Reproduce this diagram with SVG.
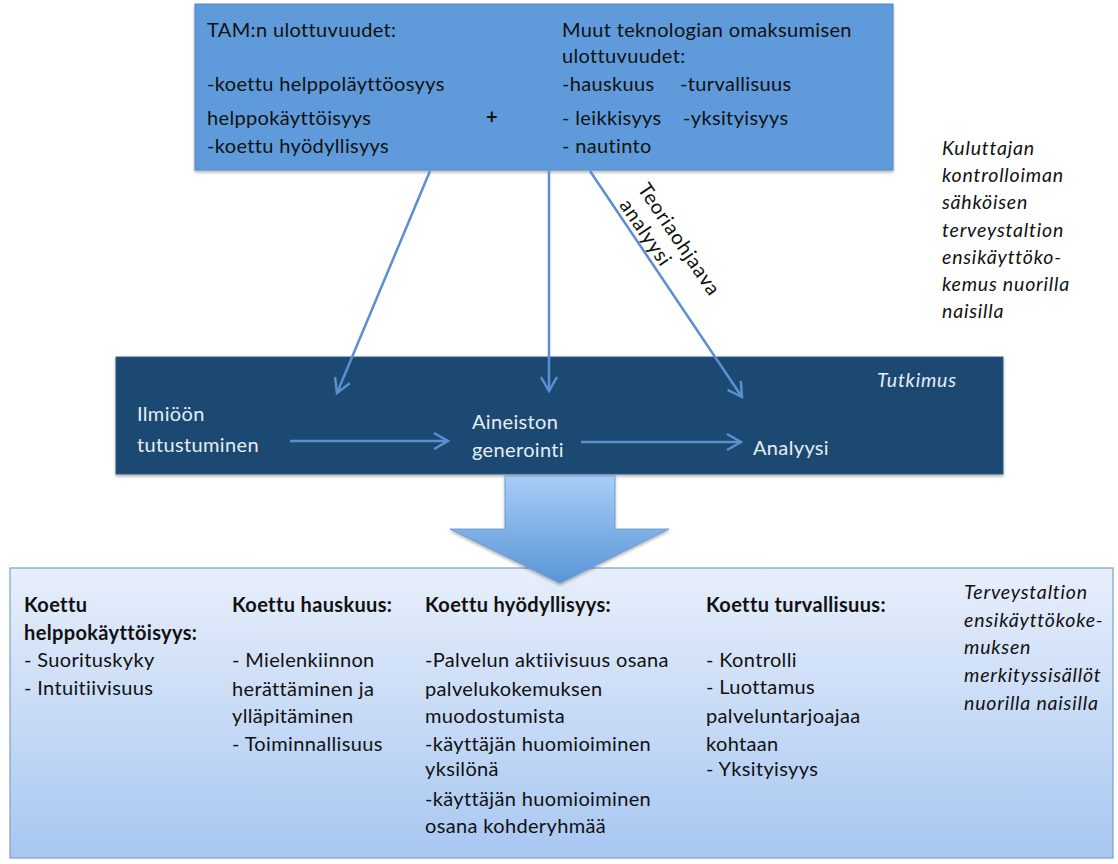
<svg xmlns="http://www.w3.org/2000/svg" width="1118" height="864" viewBox="0 0 1118 864">
  <defs>
    <style>
      .t { font-family: Lato, "Open Sans", "Liberation Sans", sans-serif; font-size: 20px; letter-spacing: 0.35px; fill: #111; }
      .w { font-family: Lato, "Open Sans", "Liberation Sans", sans-serif; font-size: 20px; letter-spacing: 0.35px; fill: #e6edf5; }
      .b { font-weight: bold; }
      .i { font-style: italic; font-size: 19.5px; letter-spacing: 0.8px; }
      .conn { stroke: #5b8fcf; stroke-width: 2.5; fill: none; }
    </style>
    <marker id="chev" viewBox="0 0 20 20" refX="18" refY="10" markerWidth="20" markerHeight="20" markerUnits="userSpaceOnUse" orient="auto">
      <path d="M4,2 L18,10 L4,18" fill="none" stroke="#5b8fcf" stroke-width="2.5"/>
    </marker>
    <linearGradient id="bigArrow" x1="0" y1="0" x2="0" y2="1">
      <stop offset="0" stop-color="#a9ccf5"/>
      <stop offset="1" stop-color="#5896d8"/>
    </linearGradient>
    <linearGradient id="resultFill" x1="0" y1="0" x2="0" y2="1">
      <stop offset="0" stop-color="#e8effb"/>
      <stop offset="1" stop-color="#a7c7f1"/>
    </linearGradient>
    <filter id="shadow" x="-5%" y="-5%" width="110%" height="115%">
      <feDropShadow dx="0" dy="2" stdDeviation="1.5" flood-color="#000" flood-opacity="0.3"/>
    </filter>
  </defs>

  <rect width="1118" height="864" fill="#fff"/>

  <!-- Dimensions box -->
  <g id="dimensions">
    <rect x="195" y="4" width="698" height="166" fill="#5f9bdb" stroke="#4f86c6" stroke-width="1" filter="url(#shadow)"/>
    <text class="t" x="207" y="37">TAM:n ulottuvuudet:</text>
    <text class="t" x="207" y="91">-koettu helppoläyttöosyys</text>
    <text class="t" x="207" y="125">helppokäyttöisyys</text>
    <text class="t" x="207" y="153">-koettu hyödyllisyys</text>
    <text class="t b" x="486" y="124">+</text>
    <text class="t" x="562" y="37">Muut teknologian omaksumisen</text>
    <text class="t" x="562" y="63">ulottuvuudet:</text>
    <text class="t" x="562" y="91">-hauskuus</text>
    <text class="t" x="680" y="91">-turvallisuus</text>
    <text class="t" x="562" y="125">- leikkisyys</text>
    <text class="t" x="683" y="125">-yksityisyys</text>
    <text class="t" x="562" y="153">- nautinto</text>
  </g>

  <!-- Side caption -->
  <g id="caption-top">
    <text class="t i" x="942" y="155">Kuluttajan</text>
    <text class="t i" x="942" y="182">kontrolloiman</text>
    <text class="t i" x="942" y="209">sähköisen</text>
    <text class="t i" x="942" y="237">terveystaltion</text>
    <text class="t i" x="942" y="264">ensikäyttöko-</text>
    <text class="t i" x="942" y="291">kemus nuorilla</text>
    <text class="t i" x="942" y="318">naisilla</text>
  </g>

  <!-- Research process box -->
  <g id="research">
    <rect x="116" y="357" width="887" height="117" fill="#1b4a72" stroke="#2c5d88" stroke-width="1" filter="url(#shadow)"/>
    <text class="w i" x="877" y="387">Tutkimus</text>
    <text class="w" x="137" y="421">Ilmiöön</text>
    <text class="w" x="137" y="452">tutustuminen</text>
    <text class="w" x="472" y="429">Aineiston</text>
    <text class="w" x="472" y="457">generointi</text>
    <text class="w" x="753" y="455">Analyysi</text>
  </g>

  <!-- Connectors -->
  <g id="connectors">
    <line class="conn" x1="430" y1="171" x2="337" y2="393" marker-end="url(#chev)"/>
    <line class="conn" x1="549" y1="171" x2="549" y2="391" marker-end="url(#chev)"/>
    <line class="conn" x1="590" y1="171" x2="742" y2="397" marker-end="url(#chev)"/>
    <line class="conn" x1="290" y1="441" x2="448" y2="441" marker-end="url(#chev)"/>
    <line class="conn" x1="581" y1="442" x2="741" y2="442" marker-end="url(#chev)"/>
    <g transform="translate(637,189) rotate(56)">
      <text class="t" x="0" y="0" style="letter-spacing:0.8px">Teoriaohjaava</text>
      <text class="t" x="3" y="24" style="letter-spacing:0.8px">analyysi</text>
    </g>
  </g>

  <!-- Result box -->
  <g id="results">
    <rect x="10" y="568" width="1103" height="290" fill="url(#resultFill)" stroke="#7c9fc9" stroke-width="1.2"/>
    <text class="t b" x="24" y="612">Koettu</text>
    <text class="t b" x="24" y="640">helppokäyttöisyys:</text>
    <text class="t" x="24" y="667">- Suorituskyky</text>
    <text class="t" x="24" y="695">- Intuitiivisuus</text>

    <text class="t b" x="232" y="612">Koettu hauskuus:</text>
    <text class="t" x="232" y="667">- Mielenkiinnon</text>
    <text class="t" x="232" y="696">herättäminen ja</text>
    <text class="t" x="232" y="723">ylläpitäminen</text>
    <text class="t" x="232" y="751">- Toiminnallisuus</text>

    <text class="t b" x="425" y="612">Koettu hyödyllisyys:</text>
    <text class="t" x="425" y="667">-Palvelun aktiivisuus osana</text>
    <text class="t" x="425" y="696">palvelukokemuksen</text>
    <text class="t" x="425" y="723">muodostumista</text>
    <text class="t" x="425" y="751">-käyttäjän huomioiminen</text>
    <text class="t" x="425" y="776">yksilönä</text>
    <text class="t" x="425" y="806">-käyttäjän huomioiminen</text>
    <text class="t" x="425" y="833">osana kohderyhmää</text>

    <text class="t b" x="706" y="612">Koettu turvallisuus:</text>
    <text class="t" x="706" y="667">- Kontrolli</text>
    <text class="t" x="706" y="694">- Luottamus</text>
    <text class="t" x="706" y="723">palveluntarjoajaa</text>
    <text class="t" x="706" y="751">kohtaan</text>
    <text class="t" x="706" y="776">- Yksityisyys</text>

    <text class="t i" x="964" y="599">Terveystaltion</text>
    <text class="t i" x="964" y="627">ensikäyttökoke-</text>
    <text class="t i" x="964" y="654">muksen</text>
    <text class="t i" x="964" y="682">merkityssisällöt</text>
    <text class="t i" x="964" y="710">nuorilla naisilla</text>
  </g>

  <!-- Transition arrow -->
  <g id="transition">
    <path d="M505,476 L615,476 L615,529 L669,529 L560,583 L450,529 L505,529 Z" fill="url(#bigArrow)" stroke="#5d92cf" stroke-width="0.8" filter="url(#shadow)"/>
  </g>
</svg>
